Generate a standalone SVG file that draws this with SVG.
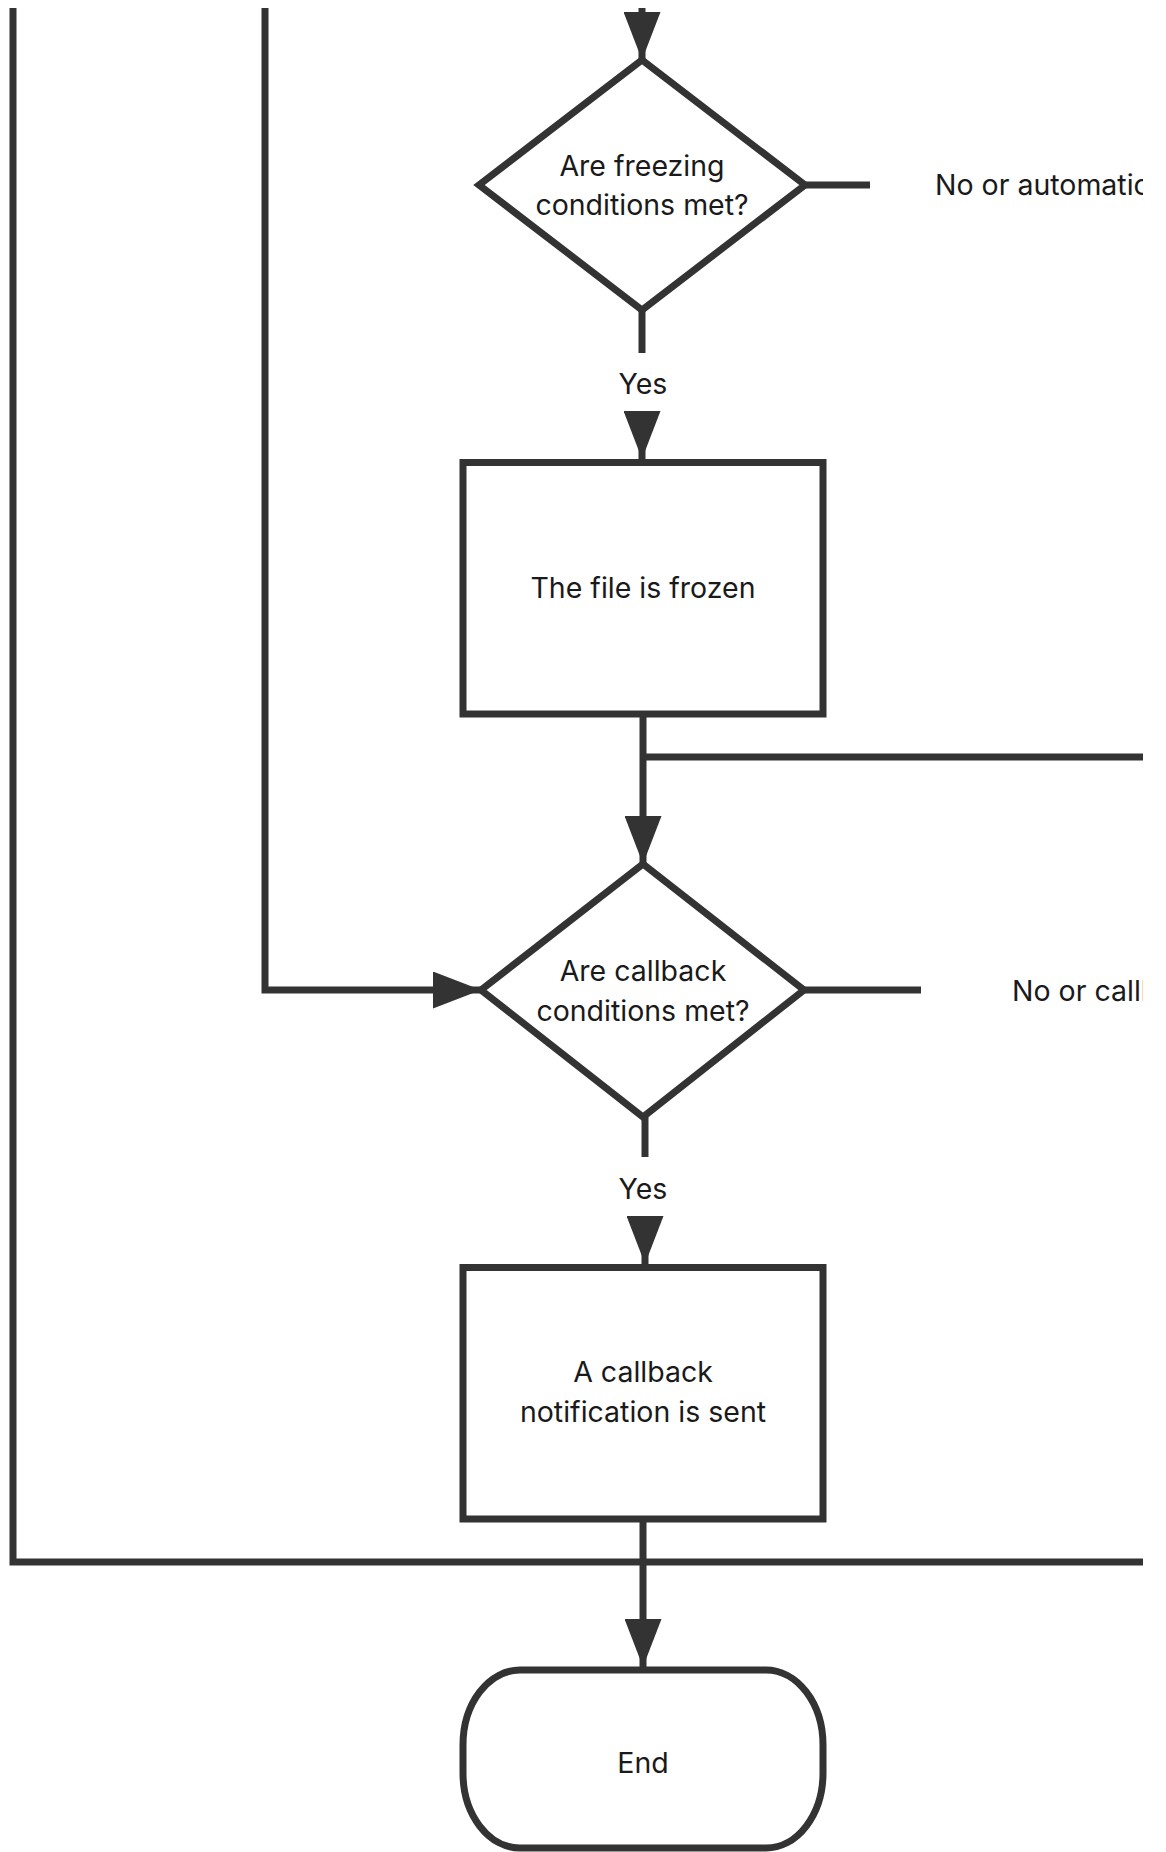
<svg xmlns="http://www.w3.org/2000/svg" width="1166" height="1852" viewBox="0 0 1166 1852">
  <style>
    .shape { fill: #ffffff; stroke: #333333; stroke-width: 7; }
    .line { fill: none; stroke: #333333; stroke-width: 7; }
    .txt { font-family: Inter, "Noto Sans", "Liberation Sans", sans-serif; font-size: 28.5px; fill: #1a1a1a; text-anchor: middle; }
    .lbl { font-family: Inter, "Noto Sans", "Liberation Sans", sans-serif; font-size: 28.5px; fill: #1a1a1a; }
  </style>
  <defs>
    <marker id="arrow" markerUnits="userSpaceOnUse" markerWidth="48" markerHeight="37" refX="48" refY="18.5" orient="auto">
      <path d="M0,0 L48,18.5 L0,37 Z" fill="#333333"/>
    </marker>
    <clipPath id="view">
      <rect x="0" y="8" width="1143" height="1844"/>
    </clipPath>
  </defs>
  <rect x="0" y="0" width="1166" height="1852" fill="#ffffff"/>
  <g clip-path="url(#view)">
    <g id="connectors">
      <path class="line" d="M642,0 L642,60" marker-end="url(#arrow)"/>
      <path class="line" d="M642,310 L642,353"/>
      <path class="line" d="M642,412 L642,459" marker-end="url(#arrow)"/>
      <path class="line" d="M805,185 L870,185"/>
      <path class="line" d="M643,717 L643,864" marker-end="url(#arrow)"/>
      <path class="line" d="M643,757 L1150,757"/>
      <path class="line" d="M265,0 L265,990 L481,990" marker-end="url(#arrow)"/>
      <path class="line" d="M804,990 L921,990"/>
      <path class="line" d="M645,1117 L645,1157"/>
      <path class="line" d="M645,1216 L645,1264" marker-end="url(#arrow)"/>
      <path class="line" d="M643,1522 L643,1667" marker-end="url(#arrow)"/>
      <path class="line" d="M13,0 L13,1562 L1150,1562"/>
      <text class="txt" x="643" y="394">Yes</text>
      <text class="txt" x="643" y="1199">Yes</text>
      <text class="lbl" x="935" y="195">No or automatic</text>
      <text class="lbl" x="1012" y="1001">No or callback</text>
    </g>
    <g id="freeze-decision">
      <polygon class="shape" points="642,60 805,185 642,310 479,185"/>
      <text class="txt" x="642" y="176">Are freezing</text>
      <text class="txt" x="642" y="215">conditions met?</text>
    </g>
    <g id="file-frozen">
      <rect class="shape" x="463" y="462.5" width="360" height="251.5"/>
      <text class="txt" x="643" y="598">The file is frozen</text>
    </g>
    <g id="callback-decision">
      <polygon class="shape" points="643,864 804,990 643,1117 481,990"/>
      <text class="txt" x="643" y="981">Are callback</text>
      <text class="txt" x="643" y="1021">conditions met?</text>
    </g>
    <g id="callback-sent">
      <rect class="shape" x="463" y="1267.5" width="360" height="251.5"/>
      <text class="txt" x="643" y="1382">A callback</text>
      <text class="txt" x="643" y="1422">notification is sent</text>
    </g>
    <g id="end">
      <rect class="shape" x="463" y="1670" width="360" height="178" rx="57" ry="75"/>
      <text class="txt" x="643" y="1773">End</text>
    </g>
  </g>
</svg>
